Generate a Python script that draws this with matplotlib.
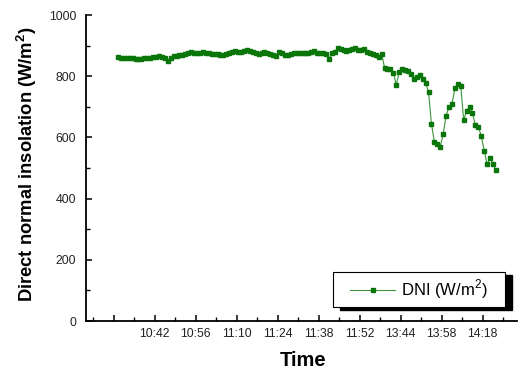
"""
DNI time series - direct normal insolation vs time
"""

import matplotlib
matplotlib.use('Agg')
import matplotlib.pyplot as plt
from matplotlib.patches import Rectangle
from matplotlib.lines import Line2D

plt.rcParams['font.family'] = ['Liberation Sans', 'DejaVu Sans']
plt.rcParams['mathtext.fontset'] = 'custom'
plt.rcParams['mathtext.rm'] = 'Liberation Sans'
plt.rcParams['mathtext.bf'] = 'Liberation Sans:bold'

# sample index (one per minute, with a gap between 11:52 and 13:44)
dni = [
    862, 861, 860, 860, 859, 858, 857, 857, 856, 858,
    859, 861, 862, 864, 866, 862, 858, 851, 860, 866,
    867, 869, 870, 872, 875, 879, 877, 875, 877, 879,
    877, 875, 874, 872, 871, 869, 869, 872, 875, 878,
    881, 880, 879, 882, 884, 882, 880, 876, 872, 876,
    880, 876, 872, 869, 867, 880, 875, 870, 869, 874,
    876, 877, 876, 876, 876, 877, 878, 882, 877, 877,
    877, 872, 855, 875, 880, 892, 888, 885, 883, 887,
    890, 892, 886, 885, 888, 878, 876, 874, 868, 864,
    873, 828, 823, 825, 812, 771, 815, 822, 820, 818,
    807, 790, 799, 804, 791, 779, 749, 644, 586, 578,
    570, 610, 671, 700, 709, 760, 774, 768, 657, 687,
    700, 679, 640, 635, 605, 557, 512, 534, 512, 493,
]
idx = list(range(len(dni)))

time_labels = ['', '10:42', '10:56', '11:10', '11:24', '11:38',
               '11:52', '13:44', '13:58', '14:18']
major_pos = [-1.5 + 14 * k for k in range(len(time_labels))]
minor_pos = [-8.5 + 14 * k for k in range(11)]

W, H = 518, 369
fig = plt.figure(figsize=(W / 100, H / 100), dpi=100)
ax = fig.add_axes([86 / W, 48 / H, 431 / W, 306 / H])

ax.plot(idx, dni, color='#3a943a', lw=0.8, marker='s', ms=3.2,
        mfc='#0a760a', mec='#0a760a', zorder=3)

ax.set_xlim(-10.9, 136.2)
ax.set_ylim(0, 1000)
ax.set_xticks(major_pos)
ax.set_xticklabels(time_labels)
ax.set_xticks(minor_pos, minor=True)
ax.set_yticks(range(0, 1001, 200))
ax.set_yticks(range(100, 1000, 200), minor=True)

for side in ['top', 'right']:
    ax.spines[side].set_visible(False)
for side in ['left', 'bottom']:
    ax.spines[side].set_linewidth(1.3)

ax.tick_params(which='major', direction='in', length=4.5, width=1.1,
               labelsize=8.8, labelcolor='#222222')
ax.tick_params(which='minor', direction='in', length=3, width=1.0)
ax.tick_params(axis='y', which='major', pad=7)
ax.tick_params(axis='x', which='major', pad=5)

fig.text(27 / W, 1 - 164 / H, r'Direct normal insolation (W/m$^{\mathbf{2}}$)',
         rotation=90, ha='center', va='center', fontsize=13.2, fontweight='bold')
fig.text(303 / W, 1 - 360 / H, 'Time', ha='center', va='center',
         fontsize=14.5, fontweight='bold')

# legend box with solid drop shadow
x0, x1 = (333 - 86) / 431, (505 - 86) / 431
y0, y1 = (321 - 307) / 306, (321 - 272) / 306
ax.add_patch(Rectangle((x0 + 7 / 431, y0 - 3 / 306), x1 - x0, y1 - y0,
                       transform=ax.transAxes, facecolor='black',
                       edgecolor='black', zorder=4, clip_on=False))
ax.add_patch(Rectangle((x0, y0), x1 - x0, y1 - y0, transform=ax.transAxes,
                       facecolor='white', edgecolor='black', lw=0.8,
                       zorder=5, clip_on=False))
handle = Line2D([], [], color='#3a943a', lw=0.8, marker='s', ms=3.2,
                mfc='#0a760a', mec='#0a760a')
leg = ax.legend([handle], [r'DNI (W/m$^{2}$)'], loc='center',
                bbox_to_anchor=((x0 + x1) / 2, (y0 + y1) / 2),
                frameon=False, fontsize=12, handlelength=2.7,
                handletextpad=0.35)
leg.set_zorder(6)

plt.savefig('out.png', dpi=100)
plt.close()
